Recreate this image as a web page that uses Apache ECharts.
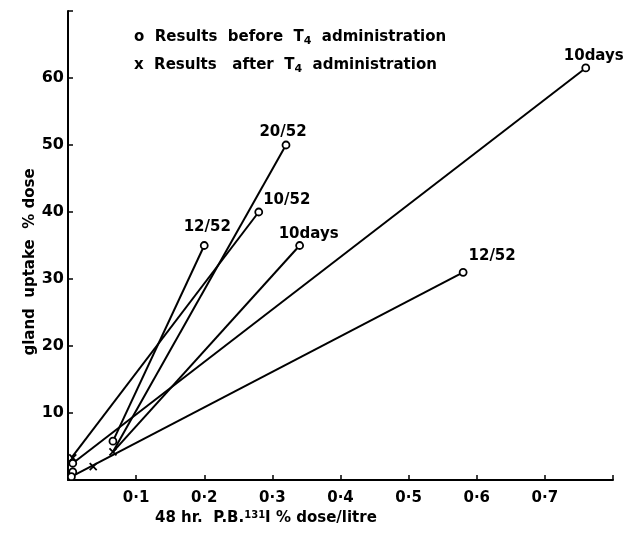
<!DOCTYPE html>
<html><head><meta charset="utf-8">
<script src="https://cdn.jsdelivr.net/npm/echarts@6/dist/echarts.min.js"></script>
<style>html,body{margin:0;padding:0;background:#fff}#c{width:629px;height:535px}</style>
</head><body><div id="c"></div>
<script>
// Values
const xTicks = [0.1,0.2,0.3,0.4,0.5,0.6,0.7];
const yTicks = [10,20,30,40,50,60];
const pointLabels = ['12/52','10/52','20/52','10days','12/52','10days'];
const endX   = [0.20, 0.28, 0.32, 0.34, 0.58, 0.76];
const endY   = [35,   40,   50,   35,   31,   61.5];
const startX = [0.066, 0.005, 0.066, 0.066, 0.005, 0.007];
const startY = [5.8,   3.3,   4.2,   4.2,   0.5,   2.5];
const lowBeforeX = [0.007, 0.007, 0.005, 0.066];
const lowBeforeY = [2.5,   1.2,   0.5,   5.8];
const afterX = [0.007, 0.037, 0.066];
const afterY = [3.3,   2.0,   4.2];
const labelOffsets = [[3,-14],[28,-8],[-3,-9],[9,-7],[29,-12],[8,-8]];

const FONT = 'DejaVu Sans';
const chart = echarts.init(document.getElementById('c'));
const lineSeries = endX.map((x,i)=>({
  type:'line', data:[[startX[i],startY[i]],[x,endY[i]]], symbol:'none',
  lineStyle:{color:'#000',width:2}, silent:true, z:2
}));
const xPath = 'path://M0,0L10,10M10,0L0,10';
const txt = {fontSize:15,fontFamily:FONT,fontWeight:'bold',fill:'#000'};
const sub = {fontSize:11,fontFamily:FONT,fontWeight:'bold',fill:'#000',verticalAlign:'bottom',padding:[7,0,0,0]};
const sup = {fontSize:10,fontFamily:FONT,fontWeight:'bold',fill:'#000',verticalAlign:'top',padding:[0,0,7,0]};
chart.setOption({
  animation:false,
  backgroundColor:'#fff',
  grid:{left:68,right:16,top:11,bottom:55},
  xAxis:{type:'value',min:0,max:0.8,interval:0.1,
    axisLine:{lineStyle:{color:'#000',width:2}},
    axisTick:{inside:true,length:5,lineStyle:{color:'#000',width:1.5}},
    splitLine:{show:false},
    axisLabel:{color:'#000',fontFamily:FONT,fontWeight:'bold',fontSize:15,margin:11,
      formatter:v=>{const t=xTicks.find(k=>Math.abs(k-v)<1e-6);return t===undefined?'':t.toFixed(1).replace('.','·');}}},
  yAxis:{type:'value',min:0,max:70,interval:10,
    axisLine:{lineStyle:{color:'#000',width:2}},
    axisTick:{inside:true,length:5,lineStyle:{color:'#000',width:1.5}},
    splitLine:{show:false},
    axisLabel:{color:'#000',fontFamily:FONT,fontWeight:'bold',fontSize:16,margin:4,
      formatter:v=>yTicks.includes(v)?String(v):''}},
  graphic:[
    {type:'text',left:134,top:30,style:{rich:{n:txt,s:sub},
      text:'{n|o  Results  before  T}{s|4}{n|  administration}'}},
    {type:'text',left:134,top:58,style:{rich:{n:txt,s:sub},
      text:'{n|x  Results   after  T}{s|4}{n|  administration}'}},
    {type:'text',x:30,y:262,rotation:Math.PI/2,style:{text:'gland  uptake  % dose',fontSize:15,fontFamily:FONT,fontWeight:'bold',fill:'#000',align:'center',verticalAlign:'middle'}},
    {type:'text',left:155,top:510,style:{rich:{n:txt,s:sup},
      text:'{n|48 hr.  P.B.}{s|131}{n|I % dose/litre}'}}
  ],
  series:[...lineSeries,
    {type:'scatter',data:endX.map((x,i)=>[x,endY[i]]),symbol:'circle',symbolSize:7,
      itemStyle:{color:'#fff',borderColor:'#000',borderWidth:1.8,opacity:1},z:5,
      label:{show:true,position:'top',distance:0,color:'#000',fontFamily:FONT,fontWeight:'bold',fontSize:15,
        formatter:p=>pointLabels[p.dataIndex]},
      labelLayout:p=>({dx:labelOffsets[p.dataIndex][0],dy:labelOffsets[p.dataIndex][1]+8})},
    {type:'scatter',data:lowBeforeX.map((x,i)=>[x,lowBeforeY[i]]),symbol:'circle',symbolSize:7,
      itemStyle:{color:'#fff',borderColor:'#000',borderWidth:1.8,opacity:1},z:5},
    {type:'scatter',data:afterX.map((x,i)=>[x,afterY[i]]),symbol:xPath,symbolSize:7,
      itemStyle:{color:'none',borderColor:'#000',borderWidth:1.8,opacity:1},z:6}
  ]
});
</script></body></html>
